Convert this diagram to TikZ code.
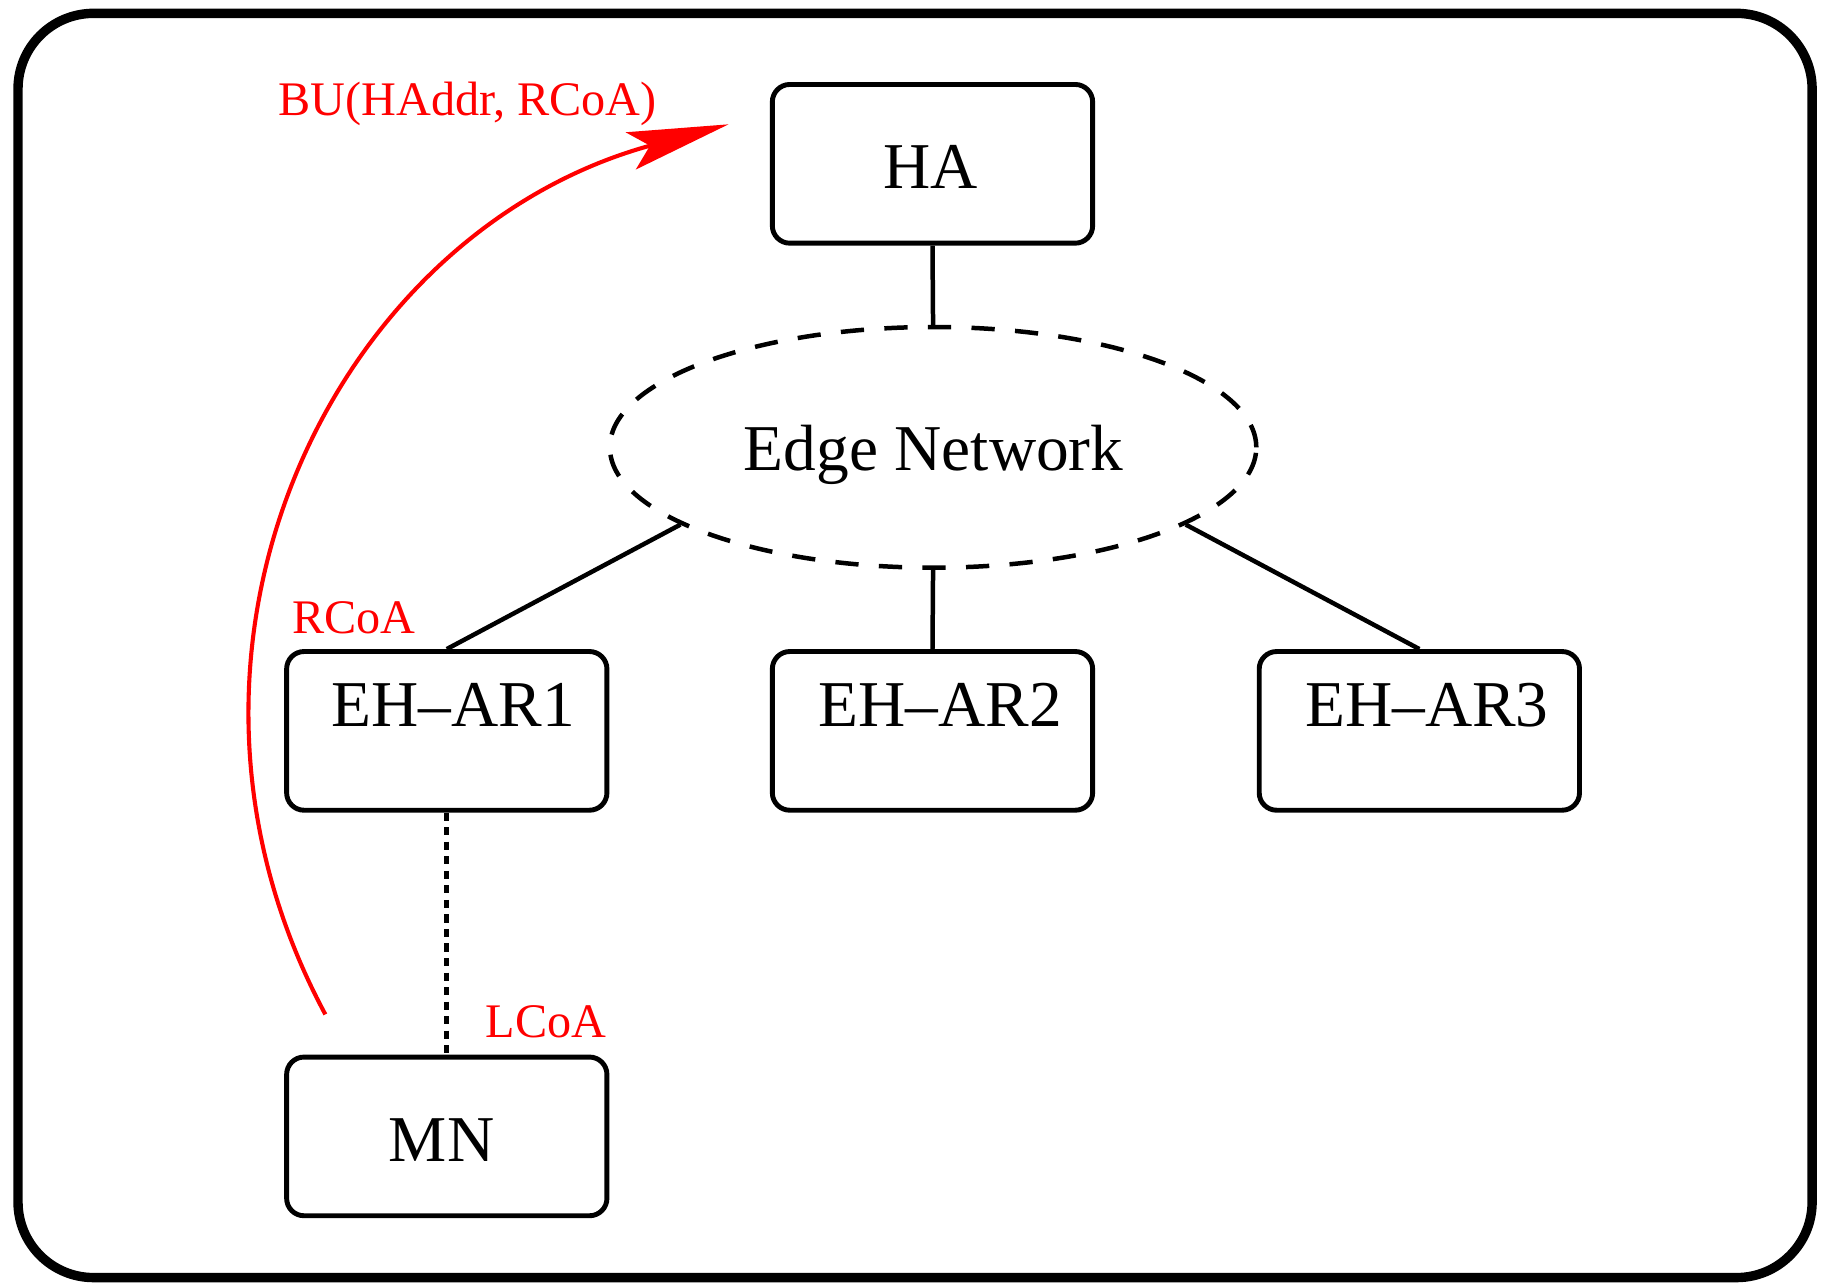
\documentclass[tikz,border=0pt]{standalone}
\usepackage{fontspec}
\setmainfont{Liberation Serif}
\usetikzlibrary{arrows.meta,shapes.geometric}
\begin{document}
\begin{tikzpicture}[x=0.01cm,y=-0.01cm,
  box/.style={draw,line width=1.2pt,rounded corners=0.15cm,minimum width=2.755cm,minimum height=1.365cm,inner sep=0pt},
  lbl/.style={font=\fontsize{16}{18}\selectfont,inner sep=0pt},
  redlbl/.style={red,font=\fontsize{11.8}{13}\selectfont,inner sep=0pt,anchor=base},
  conn/.style={line width=1.1pt}]
\useasboundingbox (0,0) rectangle (1568,1107);
\draw[line width=2.3pt,rounded corners=0.65cm] (15.5,11.5) rectangle (1559.5,1099.5);
% boxes
\node[box] (ha) at (802.5,141) {};
\node[box] (ar1) at (384.5,629) {};
\node[box] (ar2) at (802.5,629) {};
\node[box] (ar3) at (1221.5,629) {};
\node[box] (mn) at (384.5,978) {};
\node[draw,dash pattern=on 0.2cm off 0.175cm,line width=1.1pt,ellipse,minimum width=5.56cm,minimum height=2.07cm,inner sep=0pt] (edge) at (803,385) {};
% texts
\node[lbl] (hat) at (801,144) {HA};
\node[lbl,anchor=base] (edget) at (803.5,405) {Edge Network};
\node[lbl,anchor=base] (ar1t) at (390,625) {EH–AR1};
\node[lbl,anchor=base] (ar2t) at (809,625) {EH–AR2};
\node[lbl,anchor=base] (ar3t) at (1228,625) {EH–AR3};
\node[lbl] (mnt) at (380,981) {MN};
\node[redlbl] (bu) at (402.5,99) {BU(HAddr, RCoA)};
\node[redlbl] (rcoa) at (304.5,545) {RCoA};
\node[redlbl] (lcoa) at (470,893) {LCoA};
% connectors
\draw[conn] (ha.south) -- (edge.north);
\draw[conn] (edge.south) -- (ar2.north);
\draw[conn] (edge.197.5) -- (ar1.north);
\draw[conn] (edge.-17.8) -- (ar3.north);
\draw[conn,line width=1.2pt,dash pattern=on 0.07cm off 0.055cm] (ar1.south) -- (mn.north);
\coordinate (bustart) at (280,873);
\coordinate (butip) at (627,107);
\draw[red,line width=1pt,-{Stealth[length=0.87cm,width=0.33cm,inset=0.17cm]}] (bustart) .. controls (112,560) and (285,200) .. (butip);
\end{tikzpicture}
\end{document}
